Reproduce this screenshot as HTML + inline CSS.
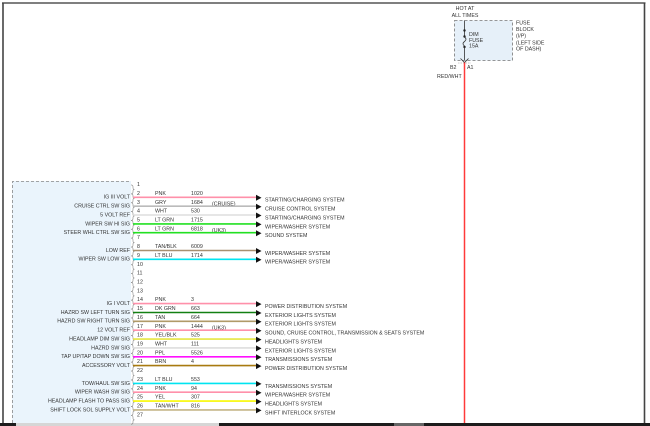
<!DOCTYPE html>
<html><head><meta charset="utf-8"><style>
html,body{margin:0;padding:0;background:#fff;}
svg{display:block;}
text{font-family:"Liberation Sans",Arial,sans-serif;font-size:5.3px;fill:#333;}
.l{text-anchor:end;}
.br{fill:none;stroke:#888;stroke-width:0.6;}
.w{stroke-width:1.6;}
</style></head><body>
<svg width="650" height="426" viewBox="0 0 650 426" xmlns="http://www.w3.org/2000/svg">
<rect width="650" height="426" fill="#fff"/>
<!-- frame -->
<line x1="2" y1="3" x2="645.5" y2="3" stroke="#555" stroke-width="1.5"/>
<line x1="3" y1="3" x2="3" y2="423" stroke="#444" stroke-width="1.6"/>
<line x1="644.5" y1="3" x2="644.5" y2="423" stroke="#444" stroke-width="1.6"/>
<rect x="0" y="423" width="650" height="3" fill="#1c1c1c"/>
<rect x="16" y="423" width="203" height="3" fill="#d6d6d6"/>
<rect x="394" y="423" width="30" height="3" fill="#666"/>

<!-- fuse block -->
<text x="465" y="10" text-anchor="middle">HOT AT</text>
<text x="465" y="17" text-anchor="middle">ALL TIMES</text>
<rect x="454.5" y="20.5" width="58" height="40" fill="#e6f0f9" stroke="#777" stroke-width="0.8" stroke-dasharray="3,2"/>
<line x1="464.5" y1="20.5" x2="464.5" y2="37" stroke="#333" stroke-width="0.8"/>
<circle cx="464.5" cy="30.5" r="1.2" fill="#222"/>
<circle cx="464.5" cy="36.5" r="1.2" fill="#222"/>
<path d="M464.5,37 c2,1.5 2,3 0,4.5 c-2,1.5 -2,3 0,4.5" fill="none" stroke="#333" stroke-width="0.8"/>
<circle cx="464.5" cy="47" r="1.2" fill="#222"/>
<line x1="464.5" y1="47" x2="464.5" y2="60" stroke="#333" stroke-width="0.8"/>
<path d="M460.5,58.5 L464.5,62.5 L468.5,58.5" fill="none" stroke="#333" stroke-width="0.8"/>
<line x1="458" y1="63" x2="471" y2="63" stroke="#999" stroke-width="0.6" stroke-dasharray="1.5,1"/>
<text x="469" y="36">DIM</text>
<text x="469" y="42">FUSE</text>
<text x="469" y="47.7">15A</text>
<text x="516" y="24.7">FUSE</text>
<text x="516" y="31">BLOCK</text>
<text x="516" y="37.7">(I/P)</text>
<text x="516" y="44.3">(LEFT SIDE</text>
<text x="516" y="50.7">OF DASH)</text>
<text x="450" y="69">B2</text>
<text x="467" y="69">A1</text>
<text x="437" y="78">RED/WHT</text>
<line x1="464.5" y1="62.5" x2="464.5" y2="423" stroke="#ff3a3a" stroke-width="1.5"/>

<!-- connector -->
<rect x="12" y="181" width="119" height="242" fill="#eaf4fc"/>
<path d="M12.5,423 V181.5 H130" fill="none" stroke="#888" stroke-width="0.8" stroke-dasharray="3,2"/>

<g transform="translate(0,188.4)"><path class="br" d="M131,-3.5 q2,0 2,2 v1 q0,1.5 1.5,1.5 q-1.5,0 -1.5,1.5 v1 q0,2 -2,2"/><text x="137" y="-2.4">1</text></g>

<g transform="translate(0,197.3)"><path class="br" d="M131,-3.5 q2,0 2,2 v1 q0,1.5 1.5,1.5 q-1.5,0 -1.5,1.5 v1 q0,2 -2,2"/><text x="137" y="-2.4">2</text><text x="155" y="-2.4">PNK</text><text x="191" y="-2.4">1020</text><text class="l" x="130" y="1.4">IG III VOLT</text><line class="w" x1="133" x2="256" y1="0" y2="0" stroke="#ff90aa"/><path d="M256,-2.5 L261.5,0.5 L256,3.5Z" fill="#111"/><text x="265" y="4.4">STARTING/CHARGING SYSTEM</text></g>

<g transform="translate(0,206.2)"><path class="br" d="M131,-3.5 q2,0 2,2 v1 q0,1.5 1.5,1.5 q-1.5,0 -1.5,1.5 v1 q0,2 -2,2"/><text x="137" y="-2.4">3</text><text x="155" y="-2.4">GRY</text><text x="191" y="-2.4">1684</text><text x="212" y="-0.5">(CRUISE)</text><text class="l" x="130" y="1.4">CRUISE CTRL SW SIG</text><line class="w" x1="133" x2="256" y1="0" y2="0" stroke="#bbbbbb"/><path d="M256,-2.5 L261.5,0.5 L256,3.5Z" fill="#111"/><text x="265" y="4.4">CRUISE CONTROL SYSTEM</text></g>

<g transform="translate(0,215.0)"><path class="br" d="M131,-3.5 q2,0 2,2 v1 q0,1.5 1.5,1.5 q-1.5,0 -1.5,1.5 v1 q0,2 -2,2"/><text x="137" y="-2.4">4</text><text x="155" y="-2.4">WHT</text><text x="191" y="-2.4">530</text><text class="l" x="130" y="1.4">5 VOLT REF</text><line class="w" x1="133" x2="256" y1="0" y2="0" stroke="#dddddd"/><path d="M256,-2.5 L261.5,0.5 L256,3.5Z" fill="#111"/><text x="265" y="4.4">STARTING/CHARGING SYSTEM</text></g>

<g transform="translate(0,223.9)"><path class="br" d="M131,-3.5 q2,0 2,2 v1 q0,1.5 1.5,1.5 q-1.5,0 -1.5,1.5 v1 q0,2 -2,2"/><text x="137" y="-2.4">5</text><text x="155" y="-2.4">LT GRN</text><text x="191" y="-2.4">1715</text><text class="l" x="130" y="1.4">WIPER SW HI SIG</text><line class="w" x1="133" x2="256" y1="0" y2="0" stroke="#22e022"/><path d="M256,-2.5 L261.5,0.5 L256,3.5Z" fill="#111"/><text x="265" y="4.4">WIPER/WASHER SYSTEM</text></g>

<g transform="translate(0,232.7)"><path class="br" d="M131,-3.5 q2,0 2,2 v1 q0,1.5 1.5,1.5 q-1.5,0 -1.5,1.5 v1 q0,2 -2,2"/><text x="137" y="-2.4">6</text><text x="155" y="-2.4">LT GRN</text><text x="191" y="-2.4">6818</text><text x="212" y="-0.5">(UK3)</text><text class="l" x="130" y="1.4">STEER WHL CTRL SW SIG</text><line class="w" x1="133" x2="256" y1="0" y2="0" stroke="#22e022"/><path d="M256,-2.5 L261.5,0.5 L256,3.5Z" fill="#111"/><text x="265" y="4.4">SOUND SYSTEM</text></g>

<g transform="translate(0,241.6)"><path class="br" d="M131,-3.5 q2,0 2,2 v1 q0,1.5 1.5,1.5 q-1.5,0 -1.5,1.5 v1 q0,2 -2,2"/><text x="137" y="-2.4">7</text></g>

<g transform="translate(0,250.5)"><path class="br" d="M131,-3.5 q2,0 2,2 v1 q0,1.5 1.5,1.5 q-1.5,0 -1.5,1.5 v1 q0,2 -2,2"/><text x="137" y="-2.4">8</text><text x="155" y="-2.4">TAN/BLK</text><text x="191" y="-2.4">6009</text><text class="l" x="130" y="1.4">LOW REF</text><line class="w" x1="133" x2="256" y1="0" y2="0" stroke="#a89070"/><path d="M256,-2.5 L261.5,0.5 L256,3.5Z" fill="#111"/><text x="265" y="4.4">WIPER/WASHER SYSTEM</text></g>

<g transform="translate(0,259.3)"><path class="br" d="M131,-3.5 q2,0 2,2 v1 q0,1.5 1.5,1.5 q-1.5,0 -1.5,1.5 v1 q0,2 -2,2"/><text x="137" y="-2.4">9</text><text x="155" y="-2.4">LT BLU</text><text x="191" y="-2.4">1714</text><text class="l" x="130" y="1.4">WIPER SW LOW SIG</text><line class="w" x1="133" x2="256" y1="0" y2="0" stroke="#00e4f0"/><path d="M256,-2.5 L261.5,0.5 L256,3.5Z" fill="#111"/><text x="265" y="4.4">WIPER/WASHER SYSTEM</text></g>

<g transform="translate(0,268.2)"><path class="br" d="M131,-3.5 q2,0 2,2 v1 q0,1.5 1.5,1.5 q-1.5,0 -1.5,1.5 v1 q0,2 -2,2"/><text x="137" y="-2.4">10</text></g>
<g transform="translate(0,277.0)"><path class="br" d="M131,-3.5 q2,0 2,2 v1 q0,1.5 1.5,1.5 q-1.5,0 -1.5,1.5 v1 q0,2 -2,2"/><text x="137" y="-2.4">11</text></g>
<g transform="translate(0,285.9)"><path class="br" d="M131,-3.5 q2,0 2,2 v1 q0,1.5 1.5,1.5 q-1.5,0 -1.5,1.5 v1 q0,2 -2,2"/><text x="137" y="-2.4">12</text></g>
<g transform="translate(0,294.8)"><path class="br" d="M131,-3.5 q2,0 2,2 v1 q0,1.5 1.5,1.5 q-1.5,0 -1.5,1.5 v1 q0,2 -2,2"/><text x="137" y="-2.4">13</text></g>

<g transform="translate(0,303.6)"><path class="br" d="M131,-3.5 q2,0 2,2 v1 q0,1.5 1.5,1.5 q-1.5,0 -1.5,1.5 v1 q0,2 -2,2"/><text x="137" y="-2.4">14</text><text x="155" y="-2.4">PNK</text><text x="191" y="-2.4">3</text><text class="l" x="130" y="1.4">IG I VOLT</text><line class="w" x1="133" x2="256" y1="0" y2="0" stroke="#ff90aa"/><path d="M256,-2.5 L261.5,0.5 L256,3.5Z" fill="#111"/><text x="265" y="4.4">POWER DISTRIBUTION SYSTEM</text></g>

<g transform="translate(0,312.5)"><path class="br" d="M131,-3.5 q2,0 2,2 v1 q0,1.5 1.5,1.5 q-1.5,0 -1.5,1.5 v1 q0,2 -2,2"/><text x="137" y="-2.4">15</text><text x="155" y="-2.4">DK GRN</text><text x="191" y="-2.4">663</text><text class="l" x="130" y="1.4">HAZRD SW LEFT TURN SIG</text><line class="w" x1="133" x2="256" y1="0" y2="0" stroke="#138013"/><path d="M256,-2.5 L261.5,0.5 L256,3.5Z" fill="#111"/><text x="265" y="4.4">EXTERIOR LIGHTS SYSTEM</text></g>

<g transform="translate(0,321.3)"><path class="br" d="M131,-3.5 q2,0 2,2 v1 q0,1.5 1.5,1.5 q-1.5,0 -1.5,1.5 v1 q0,2 -2,2"/><text x="137" y="-2.4">16</text><text x="155" y="-2.4">TAN</text><text x="191" y="-2.4">664</text><text class="l" x="130" y="1.4">HAZRD SW RIGHT TURN SIG</text><line class="w" x1="133" x2="256" y1="0" y2="0" stroke="#b09a68"/><path d="M256,-2.5 L261.5,0.5 L256,3.5Z" fill="#111"/><text x="265" y="4.4">EXTERIOR LIGHTS SYSTEM</text></g>

<g transform="translate(0,330.2)"><path class="br" d="M131,-3.5 q2,0 2,2 v1 q0,1.5 1.5,1.5 q-1.5,0 -1.5,1.5 v1 q0,2 -2,2"/><text x="137" y="-2.4">17</text><text x="155" y="-2.4">PNK</text><text x="191" y="-2.4">1444</text><text x="212" y="-0.5">(UK3)</text><text class="l" x="130" y="1.4">12 VOLT REF</text><line class="w" x1="133" x2="256" y1="0" y2="0" stroke="#ff90aa"/><path d="M256,-2.5 L261.5,0.5 L256,3.5Z" fill="#111"/><text x="265" y="4.4">SOUND, CRUISE CONTROL, TRANSMISSION &amp; SEATS SYSTEM</text></g>

<g transform="translate(0,339.1)"><path class="br" d="M131,-3.5 q2,0 2,2 v1 q0,1.5 1.5,1.5 q-1.5,0 -1.5,1.5 v1 q0,2 -2,2"/><text x="137" y="-2.4">18</text><text x="155" y="-2.4">YEL/BLK</text><text x="191" y="-2.4">525</text><text class="l" x="130" y="1.4">HEADLAMP DIM SW SIG</text><line class="w" x1="133" x2="256" y1="0" y2="0" stroke="#e6e640"/><path d="M256,-2.5 L261.5,0.5 L256,3.5Z" fill="#111"/><text x="265" y="4.4">HEADLIGHTS SYSTEM</text></g>

<g transform="translate(0,347.9)"><path class="br" d="M131,-3.5 q2,0 2,2 v1 q0,1.5 1.5,1.5 q-1.5,0 -1.5,1.5 v1 q0,2 -2,2"/><text x="137" y="-2.4">19</text><text x="155" y="-2.4">WHT</text><text x="191" y="-2.4">111</text><text class="l" x="130" y="1.4">HAZRD SW SIG</text><line class="w" x1="133" x2="256" y1="0" y2="0" stroke="#dddddd"/><path d="M256,-2.5 L261.5,0.5 L256,3.5Z" fill="#111"/><text x="265" y="4.4">EXTERIOR LIGHTS SYSTEM</text></g>

<g transform="translate(0,356.8)"><path class="br" d="M131,-3.5 q2,0 2,2 v1 q0,1.5 1.5,1.5 q-1.5,0 -1.5,1.5 v1 q0,2 -2,2"/><text x="137" y="-2.4">20</text><text x="155" y="-2.4">PPL</text><text x="191" y="-2.4">5526</text><text class="l" x="130" y="1.4">TAP UP/TAP DOWN SW SIG</text><line class="w" x1="133" x2="256" y1="0" y2="0" stroke="#ff10ff"/><path d="M256,-2.5 L261.5,0.5 L256,3.5Z" fill="#111"/><text x="265" y="4.4">TRANSMISSIONS SYSTEM</text></g>

<g transform="translate(0,365.6)"><path class="br" d="M131,-3.5 q2,0 2,2 v1 q0,1.5 1.5,1.5 q-1.5,0 -1.5,1.5 v1 q0,2 -2,2"/><text x="137" y="-2.4">21</text><text x="155" y="-2.4">BRN</text><text x="191" y="-2.4">4</text><text class="l" x="130" y="1.4">ACCESSORY VOLT</text><line class="w" x1="133" x2="256" y1="0" y2="0" stroke="#a87a10"/><path d="M256,-2.5 L261.5,0.5 L256,3.5Z" fill="#111"/><text x="265" y="4.4">POWER DISTRIBUTION SYSTEM</text></g>

<g transform="translate(0,374.5)"><path class="br" d="M131,-3.5 q2,0 2,2 v1 q0,1.5 1.5,1.5 q-1.5,0 -1.5,1.5 v1 q0,2 -2,2"/><text x="137" y="-2.4">22</text></g>

<g transform="translate(0,383.4)"><path class="br" d="M131,-3.5 q2,0 2,2 v1 q0,1.5 1.5,1.5 q-1.5,0 -1.5,1.5 v1 q0,2 -2,2"/><text x="137" y="-2.4">23</text><text x="155" y="-2.4">LT BLU</text><text x="191" y="-2.4">553</text><text class="l" x="130" y="1.4">TOW/HAUL SW SIG</text><line class="w" x1="133" x2="256" y1="0" y2="0" stroke="#00e4f0"/><path d="M256,-2.5 L261.5,0.5 L256,3.5Z" fill="#111"/><text x="265" y="4.4">TRANSMISSIONS SYSTEM</text></g>

<g transform="translate(0,392.2)"><path class="br" d="M131,-3.5 q2,0 2,2 v1 q0,1.5 1.5,1.5 q-1.5,0 -1.5,1.5 v1 q0,2 -2,2"/><text x="137" y="-2.4">24</text><text x="155" y="-2.4">PNK</text><text x="191" y="-2.4">94</text><text class="l" x="130" y="1.4">WIPER WASH SW SIG</text><line class="w" x1="133" x2="256" y1="0" y2="0" stroke="#ff90aa"/><path d="M256,-2.5 L261.5,0.5 L256,3.5Z" fill="#111"/><text x="265" y="4.4">WIPER/WASHER SYSTEM</text></g>

<g transform="translate(0,401.1)"><path class="br" d="M131,-3.5 q2,0 2,2 v1 q0,1.5 1.5,1.5 q-1.5,0 -1.5,1.5 v1 q0,2 -2,2"/><text x="137" y="-2.4">25</text><text x="155" y="-2.4">YEL</text><text x="191" y="-2.4">307</text><text class="l" x="130" y="1.4">HEADLAMP FLASH TO PASS SIG</text><line class="w" x1="133" x2="256" y1="0" y2="0" stroke="#f8f800"/><path d="M256,-2.5 L261.5,0.5 L256,3.5Z" fill="#111"/><text x="265" y="4.4">HEADLIGHTS SYSTEM</text></g>

<g transform="translate(0,409.9)"><path class="br" d="M131,-3.5 q2,0 2,2 v1 q0,1.5 1.5,1.5 q-1.5,0 -1.5,1.5 v1 q0,2 -2,2"/><text x="137" y="-2.4">26</text><text x="155" y="-2.4">TAN/WHT</text><text x="191" y="-2.4">816</text><text class="l" x="130" y="1.4">SHIFT LOCK SOL SUPPLY VOLT</text><line class="w" x1="133" x2="256" y1="0" y2="0" stroke="#c4b484"/><path d="M256,-2.5 L261.5,0.5 L256,3.5Z" fill="#111"/><text x="265" y="4.4">SHIFT INTERLOCK SYSTEM</text></g>

<g transform="translate(0,418.8)"><path class="br" d="M131,-3.5 q2,0 2,2 v1 q0,1.5 1.5,1.5 q-1.5,0 -1.5,1.5 v1 q0,2 -2,2"/><text x="137" y="-2.4">27</text></g>
</svg>
</body></html>
